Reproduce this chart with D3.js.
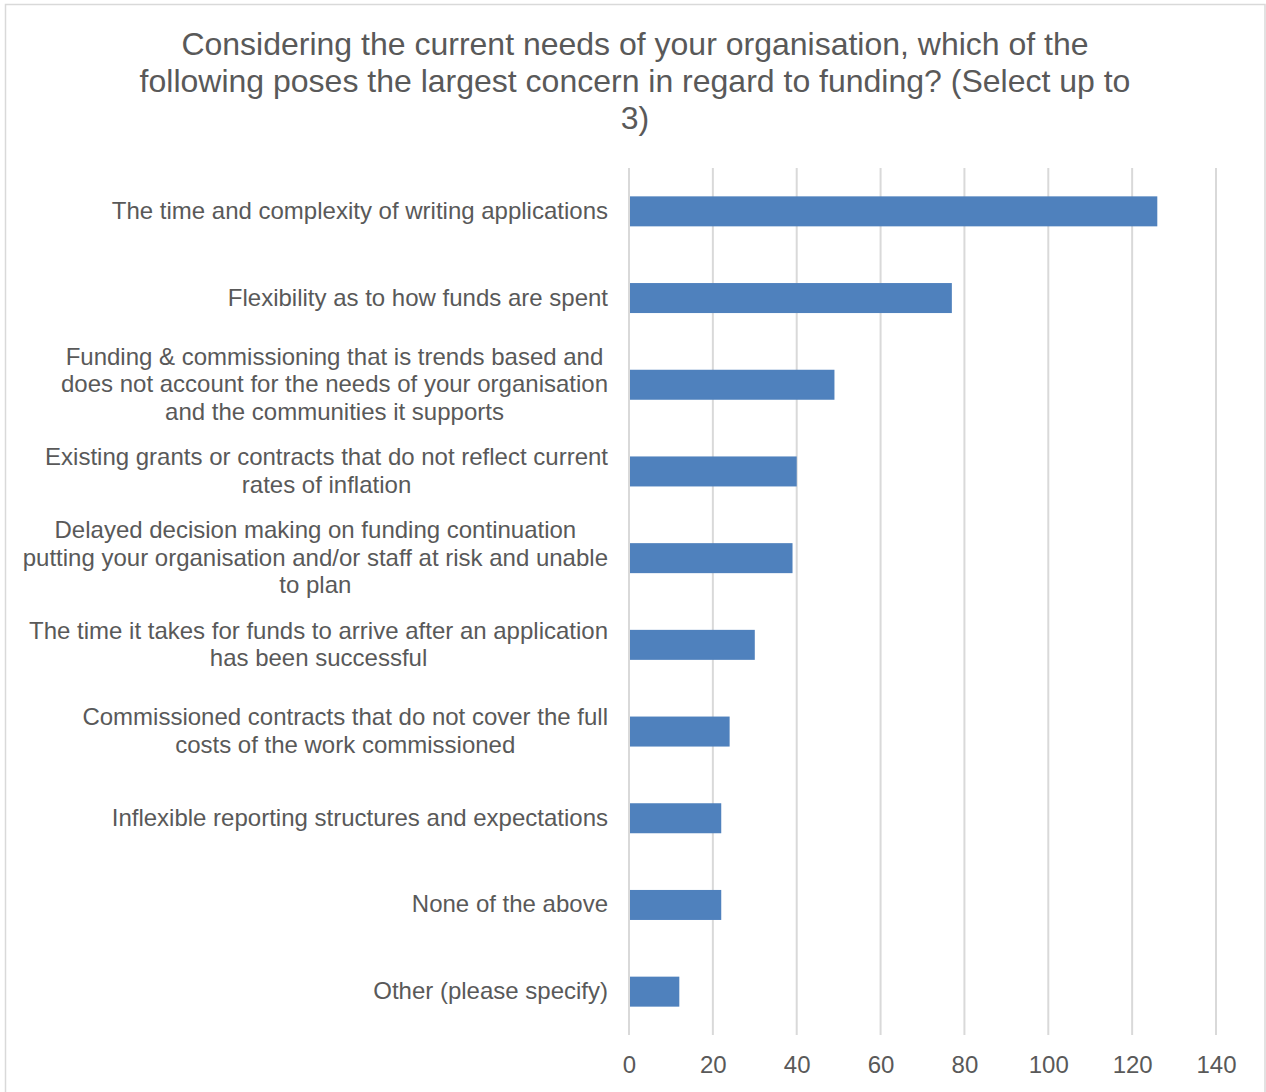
<!DOCTYPE html>
<html>
<head>
<meta charset="utf-8">
<script src="https://cdn.jsdelivr.net/npm/d3@7"></script>
<style>
  html, body { margin: 0; padding: 0; background: #ffffff; }
  svg { display: block; font-family: "Liberation Sans", Arial, sans-serif; }
</style>
</head>
<body>
<svg id="chart" width="1266" height="1092"></svg>
<script>
// Survey responses: concerns about funding (respondents could pick up to 3)
const categories = [
  "The time and complexity of writing applications",
  "Flexibility as to how funds are spent",
  "Funding & commissioning that is trends based and does not account for the needs of your organisation and the communities it supports",
  "Existing grants or contracts that do not reflect current rates of inflation",
  "Delayed decision making on funding continuation putting your organisation and/or staff at risk and unable to plan",
  "The time it takes for funds to arrive after an application has been successful",
  "Commissioned contracts that do not cover the full costs of the work commissioned",
  "Inflexible reporting structures and expectations",
  "None of the above",
  "Other (please specify)"
];

// Wrapped lines for each category label
const labelLines = [
  ["The time and complexity of writing applications"],
  ["Flexibility as to how funds are spent"],
  ["Funding & commissioning that is trends based and", "does not account for the needs of your organisation", "and the communities it supports"],
  ["Existing grants or contracts that do not reflect current", "rates of inflation"],
  ["Delayed decision making on funding continuation", "putting your organisation and/or staff at risk and unable", "to plan"],
  ["The time it takes for funds to arrive after an application", "has been successful"],
  ["Commissioned contracts that do not cover the full", "costs of the work commissioned"],
  ["Inflexible reporting structures and expectations"],
  ["None of the above"],
  ["Other (please specify)"]
];

const counts = [126, 77, 49, 40, 39, 30, 24, 22, 22, 12];

const xTicks = [0, 20, 40, 60, 80, 100, 120, 140];

const titleLines = [
  "Considering the current needs of your organisation, which of the",
  "following poses the largest concern in regard to funding? (Select up to",
  "3)"
];

const textColor = "#595959";
const barColor = "#4F81BD";
const gridColor = "#d9d9d9";

const svg = d3.select("#chart");

// Chart frame
svg.append("rect")
  .attr("x", 5.5).attr("y", 4.5)
  .attr("width", 1259.5).attr("height", 1092)
  .attr("fill", "#ffffff")
  .attr("stroke", gridColor)
  .attr("stroke-width", 1.5);

// Title
svg.append("g")
  .selectAll("text")
  .data(titleLines)
  .join("text")
  .attr("x", 635)
  .attr("y", (d, i) => 54.5 + i * 37)
  .attr("text-anchor", "middle")
  .attr("font-size", 32)
  .attr("fill", textColor)
  .text(d => d);

const plot = { left: 629, right: 1216, top: 168, bottom: 1035 };

const x = d3.scaleLinear()
  .domain([0, 140])
  .range([plot.left, plot.right]);

const y = d3.scaleBand()
  .domain(categories)
  .range([plot.top, plot.bottom])
  .paddingInner(0.654)
  .paddingOuter(0.327);

// Vertical gridlines
svg.append("g")
  .selectAll("line")
  .data(xTicks)
  .join("line")
  .attr("x1", d => x(d)).attr("x2", d => x(d))
  .attr("y1", plot.top).attr("y2", plot.bottom)
  .attr("stroke", gridColor)
  .attr("stroke-width", 2);

// X axis tick labels
const xAxis = d3.axisBottom(x).tickValues(xTicks).tickSize(0).tickPadding(0);
const xg = svg.append("g")
  .attr("transform", `translate(0, ${plot.bottom})`)
  .call(xAxis);
xg.select(".domain").remove();
xg.selectAll("text")
  .attr("y", 38)
  .attr("dy", 0)
  .attr("font-size", 24)
  .attr("font-family", "Liberation Sans, Arial, sans-serif")
  .attr("fill", textColor);

// Bars
svg.append("g")
  .selectAll("rect")
  .data(categories)
  .join("rect")
  .attr("x", x(0) + 1)
  .attr("y", d => y(d))
  .attr("width", (d, i) => x(counts[i]) - x(0) - 1)
  .attr("height", y.bandwidth())
  .attr("fill", barColor);

// Category labels: block right-aligned against the axis, lines centred within it
const labelRight = 608;
const lineHeight = 27.5;
const labels = svg.append("g");
categories.forEach((cat, i) => {
  const lines = labelLines[i];
  const cy = y(cat) + y.bandwidth() / 2;
  const g = labels.append("g");
  const texts = g.selectAll("text")
    .data(lines)
    .join("text")
    .attr("font-size", 24)
    .attr("fill", textColor)
    .attr("text-anchor", "middle")
    .attr("y", (d, j) => cy + (j - (lines.length - 1) / 2) * lineHeight + 7.5)
    .text(d => d);
  let maxW = 0;
  texts.each(function () { maxW = Math.max(maxW, this.getComputedTextLength()); });
  texts.attr("x", labelRight - maxW / 2);
});
</script>
</body>
</html>
